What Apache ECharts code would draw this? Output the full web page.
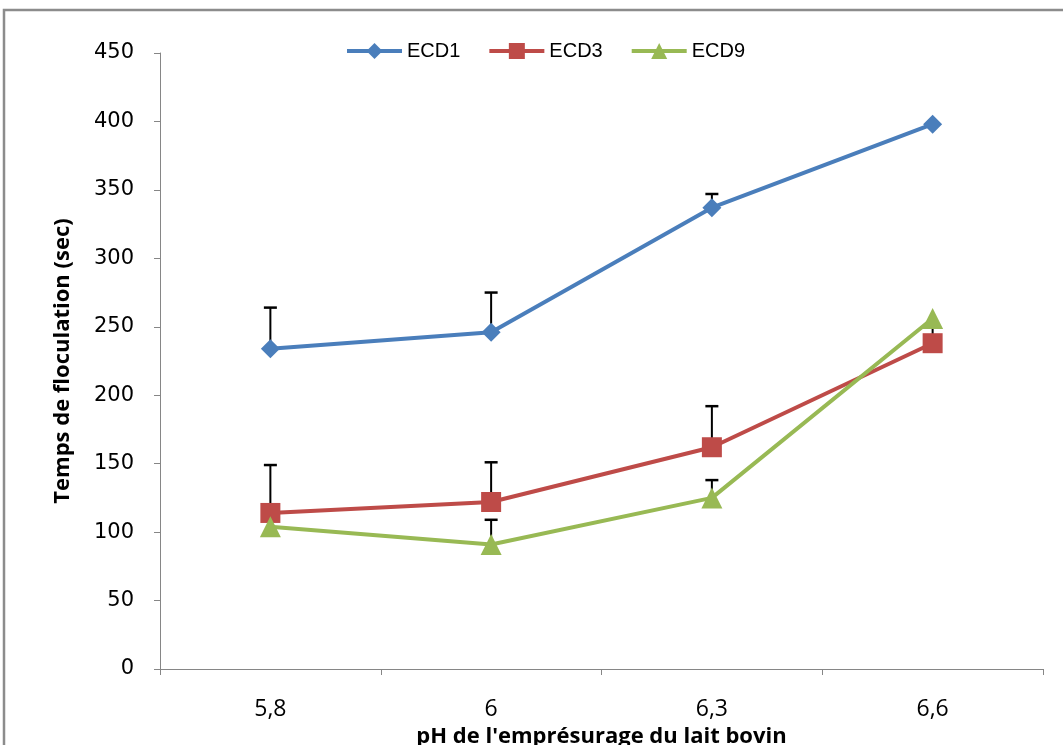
<!DOCTYPE html>
<html><head><meta charset="utf-8">
<script src="https://cdn.jsdelivr.net/npm/echarts@6/dist/echarts.min.js"></script>
<style>html,body{margin:0;padding:0;background:#fff}#c{width:1063px;height:745px}</style>
</head><body><div id="c"></div>
<script>
const categories = ['5,8', '6', '6,3', '6,6'];
const ecd1 = [234, 246, 337, 398];
const ecd3 = [114, 122, 162, 238];
const ecd9 = [104, 91, 125, 256];
const err1 = [30, 29, 10, 0];
const err3 = [35, 29, 30, 12];
const err9 = [0, 18, 13, 0];
const yTicks = { min: 0, max: 450, interval: 50 };

const chart = echarts.init(document.getElementById('c'));
const font = '"Liberation Sans", "DejaVu Sans", sans-serif';
const font2 = '"Open Sans", "Noto Sans", sans-serif';

function errSeries(name, vals, errs) {
  return {
    type: 'custom', name: name + '_err', z: 1, silent: true,
    data: vals.map((v, i) => [i, v, errs[i]]),
    renderItem: function (params, api) {
      const e = api.value(2);
      if (!e) return null;
      const p0 = api.coord([api.value(0), api.value(1)]);
      const p1 = api.coord([api.value(0), api.value(1) + e]);
      return {
        type: 'group', children: [
          { type: 'line', shape: { x1: p0[0], y1: p0[1], x2: p1[0], y2: p1[1] }, style: { stroke: '#000', lineWidth: 2 } },
          { type: 'line', shape: { x1: p1[0] - 6.5, y1: p1[1], x2: p1[0] + 6.5, y2: p1[1] }, style: { stroke: '#000', lineWidth: 2.5 } }
        ]
      };
    }
  };
}

function lineSeries(name, vals, color, symbol, size) {
  return {
    type: 'line', name: name, data: vals, z: 3,
    symbol: symbol, symbolSize: size,
    lineStyle: { color: color, width: 4 },
    itemStyle: { color: color },
    emphasis: { disabled: true }
  };
}

chart.setOption({
  animation: false,
  graphic: [{ type: 'rect', shape: { x: 4, y: 10, width: 1200, height: 900 }, style: { fill: null, stroke: '#8c8c8c', lineWidth: 2.5 }, z: -10 }],
  legend: {
    data: ['ECD1', 'ECD3', 'ECD9'],
    left: 340, top: 36, itemWidth: 55, itemHeight: 20, itemGap: 27,
    lineStyle: { width: 4 },
    textStyle: { fontFamily: font, fontSize: 20, color: '#000' }
  },
  grid: { left: 160, right: 20, top: 53, bottom: 76, containLabel: false, outerBoundsMode: 'none' },
  xAxis: {
    type: 'category', data: categories, boundaryGap: true,
    axisLine: { lineStyle: { color: '#868686', width: 1 } },
    axisTick: { show: true, length: 6, lineStyle: { color: '#868686' } },
    axisLabel: { color: '#000', fontFamily: font2, fontSize: 23, margin: 29 },
    name: "pH de l'empr\u00e9surage du lait bovin", nameLocation: 'middle', nameGap: 38,
    nameTextStyle: { color: '#000', fontFamily: font2, fontSize: 22, fontWeight: 'bold' }
  },
  yAxis: {
    type: 'value', min: yTicks.min, max: yTicks.max, interval: yTicks.interval,
    splitLine: { show: false },
    axisLine: { show: true, lineStyle: { color: '#868686', width: 1 } },
    axisTick: { show: true, length: 6, lineStyle: { color: '#868686' } },
    axisLabel: { color: '#000', fontFamily: '"DejaVu Sans", sans-serif', fontSize: 21, margin: 26, padding: [6, 0, 0, 0] },
    name: 'Temps de floculation (sec)', nameLocation: 'middle', nameGap: 86, nameRotate: 90,
    nameTextStyle: { color: '#000', fontFamily: font2, fontSize: 22, fontWeight: 'bold' }
  },
  series: [
    errSeries('ECD1', ecd1, err1),
    errSeries('ECD3', ecd3, err3),
    errSeries('ECD9', ecd9, err9),
    lineSeries('ECD1', ecd1, '#4a7ebb', 'diamond', 19),
    lineSeries('ECD3', ecd3, '#be4b48', 'rect', 20),
    lineSeries('ECD9', ecd9, '#98b954', 'triangle', 21)
  ]
});
</script></body></html>
